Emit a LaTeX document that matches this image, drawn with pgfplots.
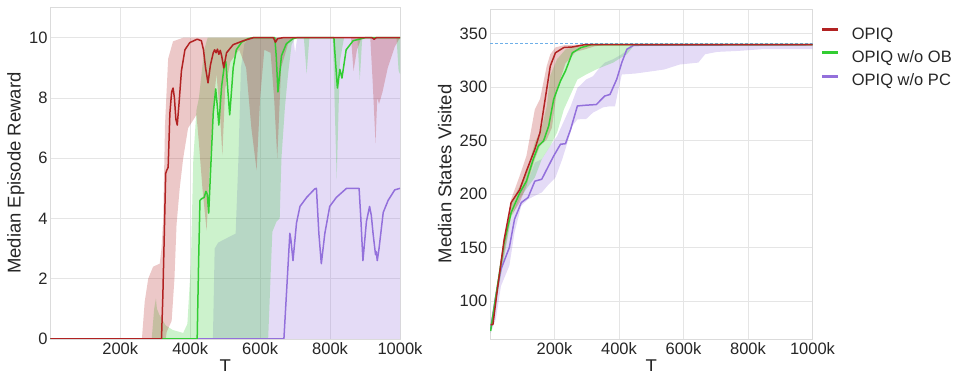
\documentclass[border=0pt]{standalone}
\usepackage{pgfplots}
\pgfplotsset{compat=1.18}
\usepackage{fontspec}
\setmainfont{Liberation Sans}
\definecolor{cR}{RGB}{178,34,34}
\definecolor{cG}{RGB}{50,205,50}
\definecolor{cP}{RGB}{147,112,219}
\definecolor{cB}{RGB}{110,175,232}
\definecolor{txt}{RGB}{38,38,38}
\pgfplotsset{
 myax/.style={
  scale only axis, anchor=south west,
  axis line style={draw=black!14, line width=0.8pt},
  grid=major, major grid style={draw=black!10, line width=0.8pt},
  major tick length=0pt, tick style={draw=none},
  tick label style={font=\fontsize{16.5}{18}\selectfont, text=txt},
  /pgf/number format/assume math mode=true,
  xticklabel style={anchor=north, inner sep=0pt, yshift=-3.7pt},
  yticklabel style={anchor=east, inner sep=0pt, xshift=-2.6pt},
  label style={font=\fontsize{18.5}{20}\selectfont, text=txt},
  xmin=0, xmax=1000,
  xtick={200,400,600,800,1000}, xticklabels={200k,400k,600k,800k,1000k},
 },
 band/.style={draw=none, fill=#1, fill opacity=0.25, forget plot},
 med/.style={draw=#1, line width=1.5pt, line join=round},
}
\begin{document}
\begin{tikzpicture}[x=1pt,y=1pt]
\path[use as bounding box] (0,0) rectangle (956,371);
% ---------------- left axis ----------------
\begin{axis}[myax, at={(50.3pt,32pt)}, width=349.7pt, height=331.7pt,
  ymin=0, ymax=11.01, ytick={0,2,4,6,8,10},
  xlabel={T}, ylabel={Median Episode Reward},
  xlabel style={at={(axis description cs:0.5,-0.0633)}, anchor=north, inner sep=0pt},
  ylabel style={at={(axis description cs:-0.0987,0.5)}, anchor=center, inner sep=0pt},
]
\addplot[band=cP] coordinates {
(0,0) (465,0) (470,3.0) (480,3.2) (530,3.5) (538,6) (545,9) (555,9.8) (570,10) (695,10) (700,9.5) (706,10) (1000,10) (1000,0) (0,0)};
\addplot[band=cG] coordinates {
(0,0) (290,0) (297,1.0) (302,1.35) (305,1.0) (312,0.8) (330,0.45) (350,0.3) (380,0.2) (392,0.5) (397,1.5) (402,2.5) (409,6.0) (418,7.6) (425,8.0) (440,9.6) (450,10) (1000,10)
(1000,8.8) (996,8.9) (990,10) (892,10) (885,8.6) (878,10) (840,10) (828,9.2) (819,5.3) (808,10) (741,10) (733,8.8) (725,10) (700,10) (690,9.77) (680,8.8) (671,7.7) (661,6.0) (656,4.0) (647,3.9) (635,3.56) (632,2.7) (623,0) (0,0)};
\addplot[band=cR] coordinates {
(0,0) (262,0) (270,1.24) (280,2.0) (294,2.4) (313,2.5) (318,3.0) (323,4.0) (328,7.1) (337,9.3) (351,9.88) (380,10) (1000,10)
(1000,10) (985,9.7) (965,9.0) (950,8.2) (940,7.8) (935,8.0) (930,6.5) (922,8.5) (915,10) (890,10) (877,9.6) (867,8.9) (860,10) (700,10) (680,9.8) (660,9.0) (649,6.0) (640,8.0) (630,9.5) (612,9.6) (600,8.0) (590,5.6) (575,7.0) (560,9.0) (540,9.6) (515,9.2) (500,8.3) (492,6.1) (485,7.5) (475,8.8) (465,7.5) (455,5.5) (447,3.6) (435,5.0) (425,6.5) (418,7.44) (394,7.0) (380,6.0) (370,5.0) (361,3.8) (355,2.0) (347,0.6) (333,0.24) (330,0) (0,0)};
\addplot[med=cP] coordinates {
(0,0) (668,0) (677,1.85) (685,3.51) (688,3.3) (694,2.6) (704,3.85) (714,4.4) (733,4.7) (756,4.98) (761,5.0) (768,3.5) (775,2.5) (785,3.5) (799,4.4) (818,4.7) (847,5.0) (883,5.0) (888,4.0) (894,2.6) (904,3.9) (913,4.4) (918,4.1) (923,3.5) (930,2.8) (932,2.9) (935,2.6) (940,3.0) (952,4.2) (966,4.6) (985,4.95) (1000,5.0)};
\addplot[med=cG] coordinates {
(0,0) (420,0) (424,2.5) (428,4.6) (432,4.65) (440,4.7) (445,4.9) (449,4.8) (453,4.18) (458,5.5) (466,7.5) (473,8.3) (477,7.8) (482,7.1) (490,8.4) (498,9.1) (502,9.2) (508,8.2) (513,7.44) (518,8.2) (523,9.0) (532,9.6) (547,9.85) (566,9.97) (580,10) (642,10) (646,9.4) (651,8.2) (656,8.8) (661,9.4) (675,9.8) (694,9.97) (705,10) (811,10) (815,9.3) (821,8.33) (828,8.95) (834,8.66) (846,9.6) (866,9.9) (900,10) (1000,10)};
\addplot[med=cR] coordinates {
(0,0) (318,0) (322,1.5) (326,3.5) (330,5.5) (333,5.6) (337,5.7) (342,7.5) (347,8.2) (351,8.33) (355,8.0) (359,7.3) (363,7.1) (368,7.8) (375,8.9) (385,9.6) (399,9.84) (420,9.95) (432,9.9) (438,9.6) (444,9.0) (451,8.5) (458,9.1) (466,9.5) (470,9.6) (474,9.5) (478,9.62) (482,9.45) (486,9.58) (490,9.4) (496,9.0) (504,9.5) (523,9.77) (552,9.9) (580,10) (638,10) (644,9.85) (650,9.97) (665,10) (920,10) (926,9.95) (932,10) (1000,10)};
\end{axis}
% ---------------- right axis ----------------
\begin{axis}[myax, at={(490pt,32pt)}, width=322.5pt, height=330pt,
  ymin=64.5, ymax=372.9, ytick={100,150,200,250,300,350},
  xlabel={T}, ylabel={Median States Visited},
  xlabel style={at={(axis description cs:0.5,-0.0636)}, anchor=north, inner sep=0pt},
  ylabel style={at={(axis description cs:-0.1402,0.5)}, anchor=center, inner sep=0pt},
  legend style={draw=none, fill=none, at={(axis description cs:1.0161,0.9518)}, anchor=north west,
    font=\fontsize{16.5}{18}\selectfont, text=txt, row sep=7.4pt,
    nodes={inner sep=0pt, text height=12pt, text depth=4pt},
    /tikz/every odd column/.append style={column sep=12.4pt}},
  legend cell align=left, reverse legend,
  legend image code/.code={\draw[#1, line width=3pt] (0pt,5.5pt) -- (15.6pt,5.5pt);},
]
\addplot[band=cP] coordinates {
(2,77) (34,139) (65.5,176) (97,204) (118,212) (139,229.4) (160.5,232.5) (187,245) (208,254) (229,268) (250,282) (271,299) (298,307) (319,310) (340,318) (356,322.8) (382,326) (408.7,330.6) (435,337) (460,339.5) (1000,340)
(1000,335.3) (841.6,335.3) (768,333.7) (704,332.8) (667,330.6) (646,322.8) (588,321) (540.7,316.4) (509,315) (451,312.6) (408.7,311.7) (396,294.6) (387.6,282) (372,282) (350.6,281) (319,276) (298,270) (271,269.8) (255.5,263.6) (240,248) (224,232.5) (203,215.4) (182,209) (160.5,201.5) (139,198.4) (118,195) (97,189) (76,164) (60,133) (34,114) (18,83) (2,70)};
\addplot[band=cG] coordinates {
(2,73) (65.5,192) (92,207.5) (113,220) (139,248) (160.5,262) (176,282) (187,311) (208,326) (234,335) (266,338) (300,340) (1000,340)
(1000,339.5) (480,339.5) (445.6,338.5) (424.5,330.6) (406.6,327.5) (382,322.8) (356,319.7) (329.5,316.4) (298,311.7) (271,307) (250,293) (229,279) (208,257.4) (187,245) (160.5,232.5) (139,215.4) (113,204.8) (92,195.6) (65.5,177) (2,70)};
\addplot[band=cR] coordinates {
(2,79) (65.5,195) (92,216.9) (113,235.6) (139,279) (155,288.6) (176,319.7) (187,330.6) (203,337) (229,339) (300,340) (1000,340)
(1000,339.5) (360,339.5) (324,338) (292.5,335) (266,333) (234,322) (208,298) (192,262) (176,251) (155,245) (139,232.5) (113,207.5) (92,192) (65.5,179.5) (2,77)};
\addplot[draw=cB, line width=1pt, dash pattern=on 3pt off 2pt, forget plot] coordinates {(0,340.9) (1000,340.9)};
\addplot[med=cP] coordinates {
(2,73.5) (18,104.7) (34,129.6) (60,150) (76,176.4) (97,192) (118,196.7) (139,212) (160.5,213.8) (176,223) (197.5,235.6) (218.6,246.5) (234,247) (250,260.5) (271,282.3) (298,283) (329.5,283.6) (356,291.6) (372,293) (393,307.3) (408.7,322.9) (424.5,335.3) (445.6,339) (1000,339.5)};
\addlegendentry{OPIQ w/o PC}
\addplot[med=cG] coordinates {
(2,72) (23,114) (44,154.6) (65.5,182.6) (92,201) (113,212) (134,232.5) (150,245) (166,249.6) (182,263.6) (197.5,288.6) (218.6,305.7) (234,315) (255.5,332) (282,336.8) (313.6,339.5) (1000,339.5)};
\addlegendentry{OPIQ w/o OB}
\addplot[med=cR] coordinates {
(2,78) (9,78) (23,111) (44,157.7) (65.5,192) (92,204) (113,221.5) (139,241.8) (155,257.4) (171,288.6) (187,319.7) (203,332) (229,336.9) (255.5,337.4) (292.5,339.5) (1000,339.5)};
\addlegendentry{OPIQ}
\end{axis}
\end{tikzpicture}
\end{document}
